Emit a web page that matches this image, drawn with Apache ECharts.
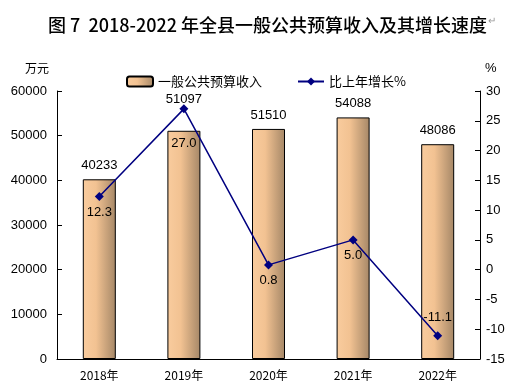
<!DOCTYPE html>
<html><head><meta charset="utf-8">
<script src="https://cdn.jsdelivr.net/npm/echarts@6/dist/echarts.min.js"></script>
<style>html,body{margin:0;padding:0;background:#fff}#c{width:520px;height:387px}</style>
</head><body><div id="c"></div>
<script>
var categories = ['2018年','2019年','2020年','2021年','2022年'];
var revenue = [40233, 51097, 51510, 54088, 48086];
var growth = [12.3, 27.0, 0.8, 5.0, -11.1];
var leftTicks = [0, 10000, 20000, 30000, 40000, 50000, 60000];
var rightTicks = [-15, -10, -5, 0, 5, 10, 15, 20, 25, 30];

var font = 'Liberation Sans, Arial, "Noto Sans CJK SC", sans-serif';
var cjk = '"Noto Sans CJK SC", sans-serif';
var chart = echarts.init(document.getElementById('c'));
var growthData = growth.map(function(v, i){
  var lbl = {position:'bottom', distance:5};
  if (i === 1) lbl = {position:'bottom', distance:24};
  if (i === 4) lbl = {position:'top', distance:7, offset:[0,0]};
  return {value:v, label:lbl};
});
var revenueData = revenue.map(function(v, i){
  return {value:v, label:{distance: i === 1 ? 25 : 7}};
});
chart.setOption({
  animation:false,
  title:{text:'图 7  2018-2022 年全县一般公共预算收入及其增长速度',left:43,top:11,
    textStyle:{fontFamily:cjk,fontSize:18,fontWeight:500,color:'#000'}},
  graphic:[
    {type:'text',left:25,top:62,style:{text:'万元',font:'12px '+cjk,fill:'#000'}},
    {type:'text',left:485,top:62,style:{text:'%',font:'13px '+font,fill:'#000'}},
    {type:'text',left:488,top:16,style:{text:'↵',font:'10px sans-serif',fill:'#999'}}
  ],
  legend:{top:70,left:121,itemGap:35,itemWidth:26,itemHeight:10,
    textStyle:{fontFamily:cjk,fontSize:13,color:'#000'},
    data:[{name:'一般公共预算收入'},{name:'比上年增长%'}]},
  grid:{left:57,right:40,top:91,bottom:28},
  xAxis:{type:'category',data:categories,
    axisLine:{lineStyle:{color:'#000',width:1}},
    axisTick:{inside:true,length:5,lineStyle:{color:'#000'}},
    axisLabel:{color:'#000',fontSize:12,fontFamily:cjk,margin:10}},
  yAxis:[
    {type:'value',min:0,max:60000,interval:10000,
     axisLine:{show:true,lineStyle:{color:'#000'}},
     axisTick:{show:true,inside:true,length:5,lineStyle:{color:'#000'}},
     splitLine:{show:false},
     axisLabel:{color:'#000',fontSize:13,fontFamily:font,margin:10,
       formatter:function(v){return String(v);}}},
    {type:'value',min:-15,max:30,interval:5,position:'right',
     axisLine:{show:true,lineStyle:{color:'#000'}},
     axisTick:{show:true,inside:true,length:5,lineStyle:{color:'#000'}},
     splitLine:{show:false},
     axisLabel:{color:'#000',fontSize:13,fontFamily:font,margin:6}}
  ],
  series:[
    {name:'一般公共预算收入',type:'bar',data:revenueData,barWidth:33,
     itemStyle:{borderColor:'#000',borderWidth:1,
       color:new echarts.graphic.LinearGradient(0,0,1,0,[
         {offset:0,color:'#F9CC9E'},{offset:0.4,color:'#F2C292'},{offset:1,color:'#A58767'}])},
     label:{show:true,position:'top',color:'#000',fontSize:13,fontFamily:font}},
    {name:'比上年增长%',type:'line',yAxisIndex:1,data:growthData,
     symbol:'diamond',symbolSize:9,
     lineStyle:{color:'#000080',width:1.5},
     itemStyle:{color:'#000080'},
     label:{show:true,color:'#000',fontSize:13,fontFamily:font,
       formatter:function(p){return p.value.toFixed(1);}}}
  ]
});
</script></body></html>
